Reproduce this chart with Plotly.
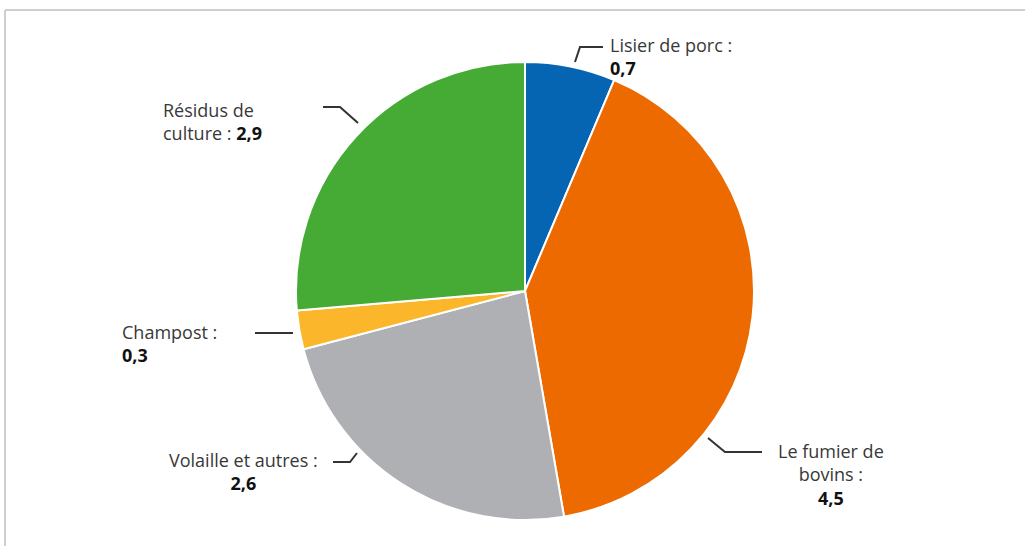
import plotly.graph_objects as go

categories = ["Lisier de porc", "Le fumier de bovins", "Volaille et autres", "Champost", "Résidus de culture"]
values = [0.7, 4.5, 2.6, 0.3, 2.9]
colors = ["#0565b2", "#ec6a00", "#aeb0b3", "#fbb62b", "#45ab35"]
label_text = ["Lisier de porc :<br>", "Le fumier de<br>bovins :<br>", "Volaille et autres :<br>",
              "Champost :<br>", "Résidus de<br>culture : "]

W, H = 1025, 546

def px(x, y):
    return x / W, 1 - y / H

fig = go.Figure(go.Pie(
    labels=categories, values=values, sort=False, direction="clockwise", rotation=0,
    marker=dict(colors=colors, line=dict(color="white", width=2)),
    textinfo="none", hoverinfo="none", showlegend=False,
    domain=dict(x=[296 / W, 754 / W], y=[1 - 520 / H, 1 - 62 / H]),
))

# label placements (pixel positions, anchors)
label_pos = [(608, 57, "left", "left"), (831, 474, "center", "center"), (243, 471, "center", "center"),
             (120, 343, "left", "left"), (161, 121, "left", "left")]
leaders = [[(575, 62), (580, 47), (603, 47)],
           [(708, 438), (725, 452), (762, 452)],
           [(333, 462), (350, 462), (357, 453)],
           [(255, 333), (293, 333)],
           [(323, 107), (340, 107), (358, 123)]]

for i, cat in enumerate(categories):
    v = f"{values[i]:.1f}".replace(".", ",")
    x, y, xa, al = label_pos[i]
    fx, fy = px(x, y)
    fig.add_annotation(x=fx, y=fy, xref="paper", yref="paper", xanchor=xa, yanchor="middle",
                       align=al, showarrow=False,
                       text=f"{label_text[i]}<b><span style='color:#111111'>{v}</span></b>",
                       font=dict(family="Open Sans", size=18, color="#383838"))
    pts = [px(a, b) for a, b in leaders[i]]
    path = "M " + " L ".join(f"{a},{b}" for a, b in pts)
    fig.add_shape(type="path", path=path, xref="paper", yref="paper",
                  line=dict(color="#333333", width=2))

# frame
fig.add_shape(type="line", xref="paper", yref="paper", x0=5 / W, x1=1.0, y0=1 - 10 / H, y1=1 - 10 / H,
              line=dict(color="#cfcfcf", width=2))
fig.add_shape(type="line", xref="paper", yref="paper", x0=5 / W, x1=5 / W, y0=1 - 10 / H, y1=0,
              line=dict(color="#cfcfcf", width=2))

fig.update_layout(width=W, height=H, margin=dict(l=0, r=0, t=0, b=0),
                  paper_bgcolor="white", plot_bgcolor="white")
fig.write_html("out.html", config={"displayModeBar": False},
               post_script="document.body.style.margin='0';document.body.style.overflow='hidden';")
